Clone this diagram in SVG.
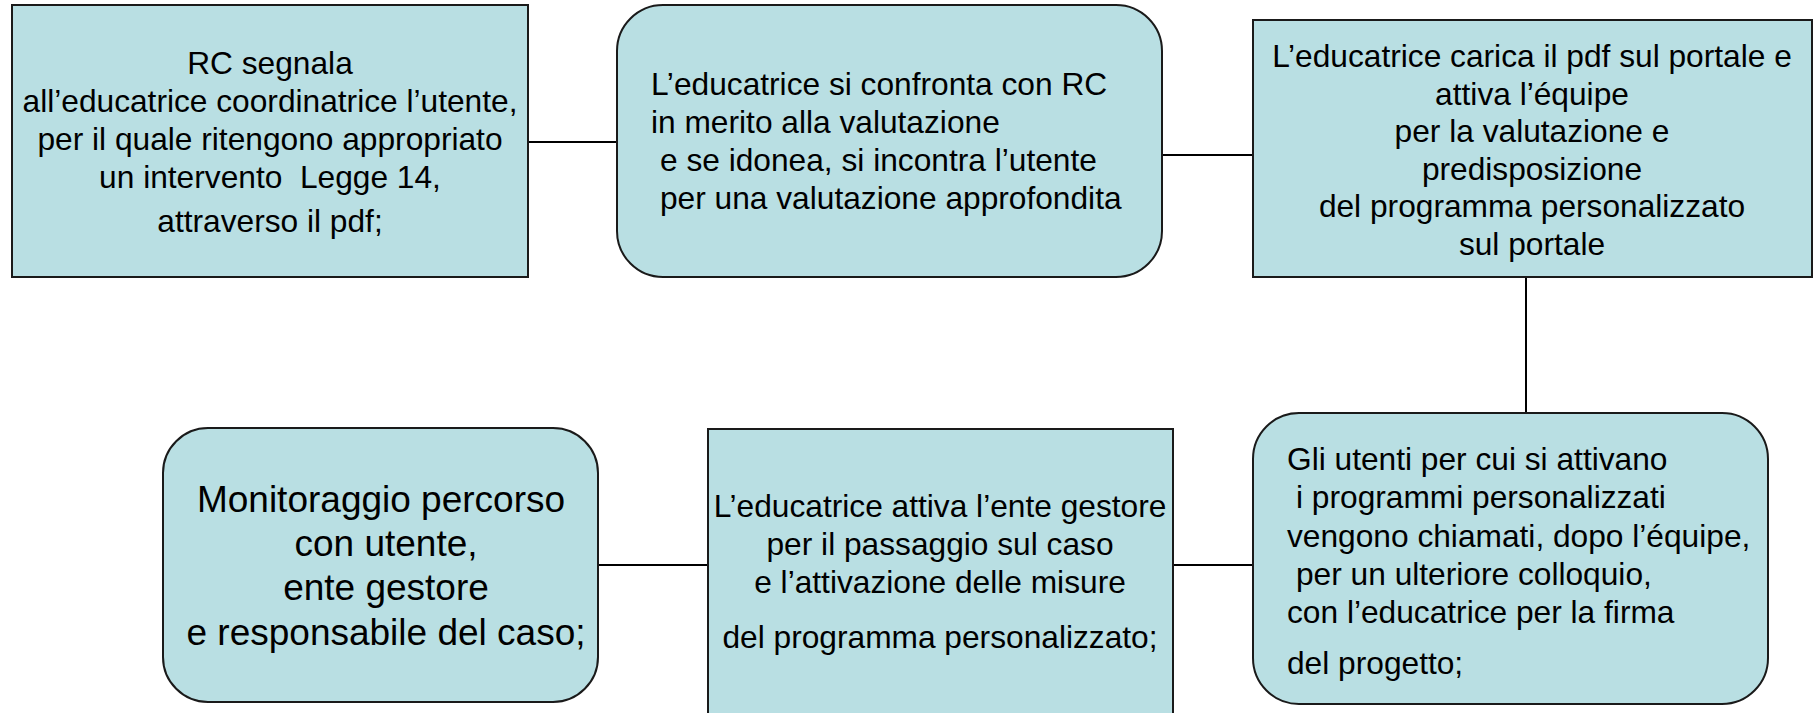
<svg xmlns="http://www.w3.org/2000/svg" width="1814" height="713" viewBox="0 0 1814 713">
<style>
.box{fill:#B9DFE3;stroke:#1a1a1a;stroke-width:2}
.conn line{stroke:#000;stroke-width:2}
text{font-family:"Liberation Sans",Arial,sans-serif;font-size:31.7px;fill:#000}
.c{text-anchor:middle}
.big{font-size:37px}
</style>
<rect width="1814" height="713" fill="#fff"/>
<g class="conn" id="connectors">
<line x1="528" y1="142" x2="617" y2="142"/>
<line x1="1162" y1="155" x2="1253" y2="155"/>
<line x1="1526" y1="277" x2="1526" y2="413"/>
<line x1="1173" y1="565" x2="1253" y2="565"/>
<line x1="598" y1="565" x2="708" y2="565"/>
</g>
<g id="n1">
<rect class="box" x="12" y="5" width="516" height="272"/>
<text class="c" x="270" y="74">RC segnala</text>
<text class="c" x="270" y="112">all’educatrice coordinatrice l’utente,</text>
<text class="c" x="270" y="150">per il quale ritengono appropriato</text>
<text class="c" x="270" y="188" xml:space="preserve">un intervento  Legge 14,</text>
<text class="c" x="270" y="232">attraverso il pdf;</text>
</g>
<g id="n2">
<rect class="box" x="617" y="5" width="545" height="272" rx="46"/>
<text x="651" y="95">L’educatrice si confronta con RC</text>
<text x="651" y="133">in merito alla valutazione</text>
<text x="660" y="171">e se idonea, si incontra l’utente</text>
<text x="660" y="209">per una valutazione approfondita</text>
</g>
<g id="n3">
<rect class="box" x="1253" y="20" width="559" height="257"/>
<text class="c" x="1532" y="67">L’educatrice carica il pdf sul portale e</text>
<text class="c" x="1532" y="104.5">attiva l’équipe</text>
<text class="c" x="1532" y="142">per la valutazione e</text>
<text class="c" x="1532" y="179.5">predisposizione</text>
<text class="c" x="1532" y="217">del programma personalizzato</text>
<text class="c" x="1532" y="254.5">sul portale</text>
</g>
<g id="n4">
<rect class="box" x="1253" y="413" width="515" height="291" rx="46"/>
<text x="1287" y="470">Gli utenti per cui si attivano</text>
<text x="1296" y="508">i programmi personalizzati</text>
<text x="1287" y="547">vengono chiamati, dopo l’équipe,</text>
<text x="1296" y="585">per un ulteriore colloquio,</text>
<text x="1287" y="623">con l’educatrice per la firma</text>
<text x="1287" y="674">del progetto;</text>
</g>
<g id="n5">
<rect class="box" x="708" y="429" width="465" height="300"/>
<text class="c" x="940" y="517">L’educatrice attiva l’ente gestore</text>
<text class="c" x="940" y="555">per il passaggio sul caso</text>
<text class="c" x="940" y="593">e l’attivazione delle misure</text>
<text class="c" x="940" y="648">del programma personalizzato;</text>
</g>
<g id="n6">
<rect class="box" x="163" y="428" width="435" height="274" rx="45"/>
<text class="c big" x="381" y="512">Monitoraggio percorso</text>
<text class="c big" x="386" y="556">con utente,</text>
<text class="c big" x="386" y="600">ente gestore</text>
<text class="c big" x="386" y="645">e responsabile del caso;</text>
</g>
</svg>
